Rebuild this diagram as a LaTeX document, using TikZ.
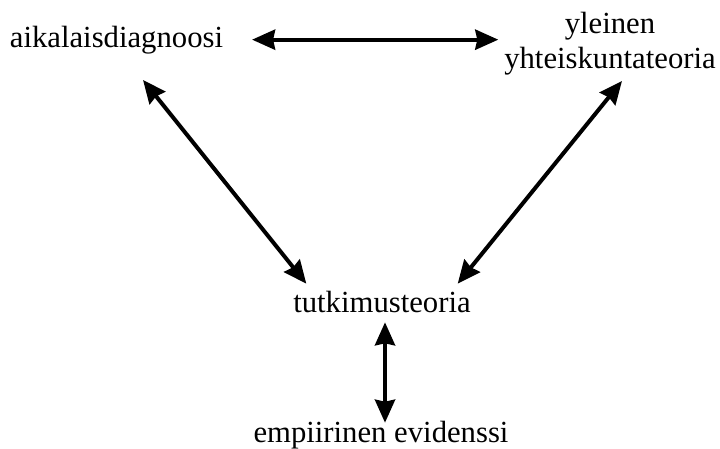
\documentclass[tikz,border=0pt]{standalone}
\usepackage{fontspec}
\setmainfont{Liberation Serif}
\usepackage{tikz}
\usetikzlibrary{arrows.meta, positioning, calc}
\tikzset{
    term/.style={rectangle, inner sep=0pt, outer sep=0pt, align=center, anchor=base, font=\fontsize{30.7pt}{35pt}\selectfont},
    biarrow/.style={line width=4pt, {Stealth[length=23pt, width=20pt, inset=2pt]}-{Stealth[length=23pt, width=20pt, inset=2pt]}}
}
\begin{document}
\begin{tikzpicture}[x=1pt, y=-1pt]
        \useasboundingbox (0,0) rectangle (720,448);

        % Four concepts
        \node[term] (diag) at (116.5, 47) {aikalaisdiagnoosi};
        \node[term] (yleinen) at (610, 68) {yleinen\\yhteiskuntateoria};
        \node[term] (tutkimus) at (382, 312) {tutkimusteoria};
        \node[term] (empiria) at (381, 442) {empiirinen evidenssi};

        % Two-way links
        \draw[biarrow] ([shift={(29,0)}]diag.east) -- ([shift={(-6,0)}]diag.east -| yleinen.west);
        \draw[biarrow] ([shift={(26.5,26.3)}]diag.south) -- ([shift={(13,-7)}]tutkimus.north west);
        \draw[biarrow] ([shift={(12,6.3)}]yleinen.south) -- ([shift={(-13,-7)}]tutkimus.north east);
        \draw[biarrow] ([shift={(3,10)}]tutkimus.south) -- ([shift={(4,2)}]empiria.north);
    \end{tikzpicture}
\end{document}
